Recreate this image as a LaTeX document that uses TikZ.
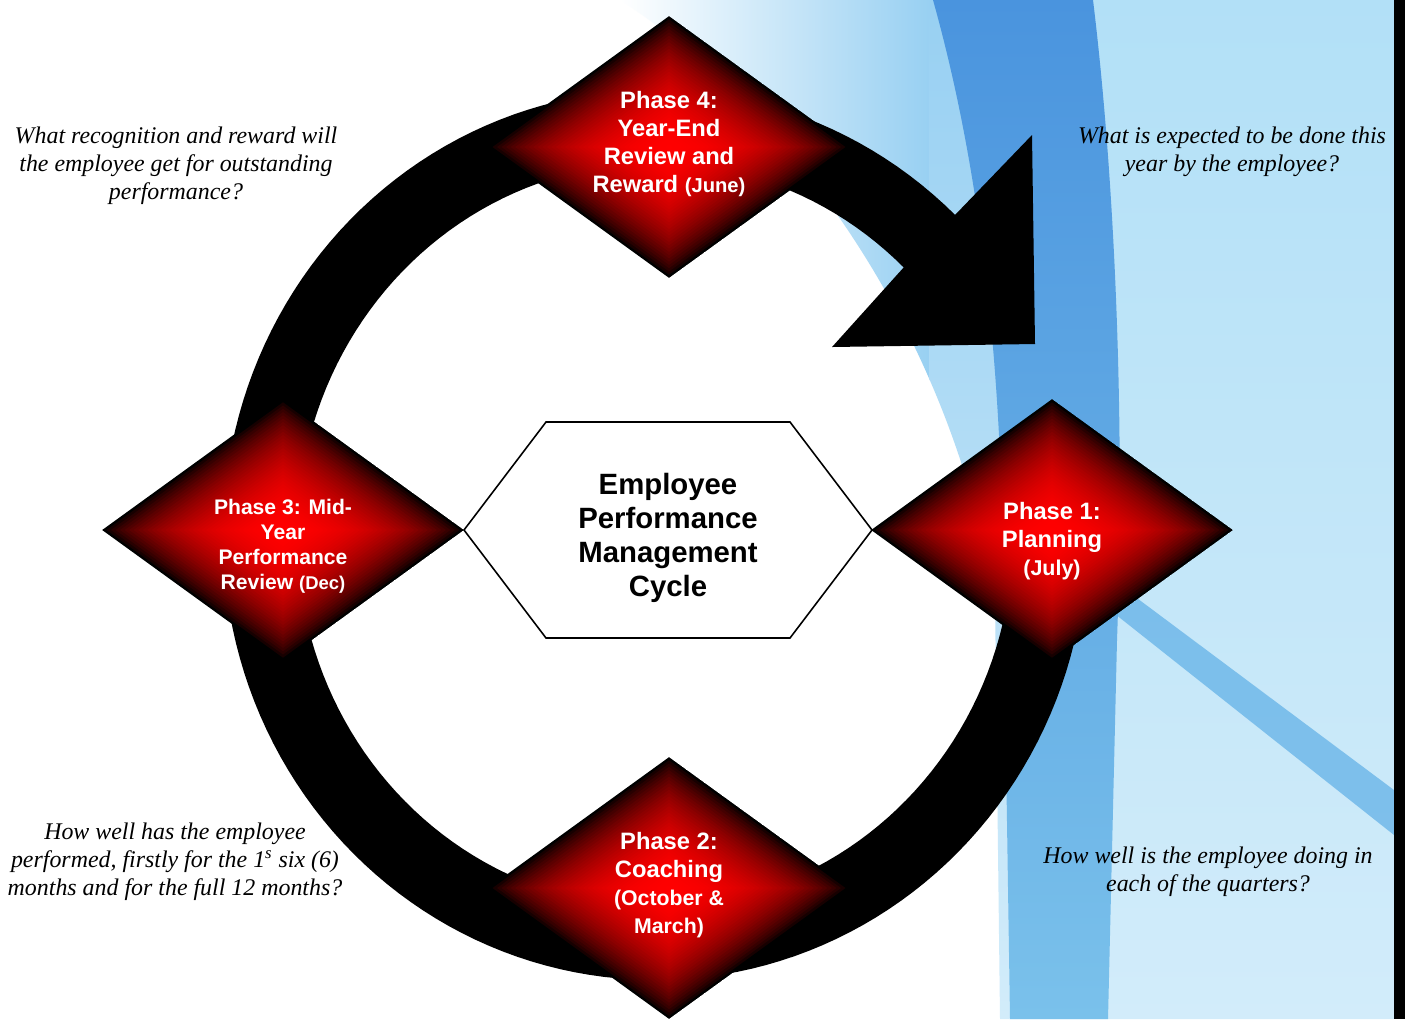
\documentclass[tikz,border=0pt]{standalone}
\usepackage{fontspec}
\setmainfont{Liberation Serif}
\setsansfont{Liberation Sans}
\usetikzlibrary{shapes.geometric}
\definecolor{skyL}{HTML}{B2E0F7}
\definecolor{skyM}{HTML}{98D0F2}
\definecolor{skyVL}{HTML}{D2ECFA}
\definecolor{swTop}{HTML}{4A94DE}
\definecolor{swBot}{HTML}{7AC1EB}
\definecolor{stripeC}{HTML}{5DAEE6}
\newcommand\gemfill{%
  \foreach \gi in {0,...,39}{%
    \pgfmathsetmacro\gsc{1-\gi/40}%
    \pgfmathsetmacro\gpc{100*(1-\gsc*\gsc)^0.8}%
    \fill[red!\gpc!black, shift={(path picture bounding box.center)}]
      (\gsc*181,0) -- (0,\gsc*131) -- (-\gsc*181,0) -- (0,-\gsc*131) -- cycle;
  }%
}
\tikzset{
  phase/.style={diamond, shape aspect=1.37, minimum width=7.24cm, minimum height=5.24cm,
    inner sep=0pt, path picture={\gemfill}},
  phasetext/.style={font=\fontsize{13.5}{15.9}\selectfont\sffamily\bfseries, text=white,
    align=center, inner sep=0pt},
  hubtext/.style={font=\fontsize{16.7}{19.3}\selectfont\sffamily\bfseries, text=black,
    align=center, inner sep=0pt},
  question/.style={font=\fontsize{13.6}{15.9}\selectfont\itshape, text=black,
    align=center, inner sep=0pt},
  hexframe/.style={draw=black, line width=0.9pt, fill=white, line join=miter}
}
\begin{document}
\begin{tikzpicture}[x=0.02cm, y=-0.02cm]
\useasboundingbox (0,0) rectangle (1405,1019);
% ---------- background ----------
\fill[white] (0,0) rectangle (1394,1019);
\begin{scope}
  \clip (620,0) .. controls (790,110) and (950,330) .. (995,600) -- (1000,1019)
        -- (1394,1019) -- (1394,0) -- cycle;
  \shade[left color=white, right color=skyM] (620,0) rectangle (930,1019);
  \shade[top color=skyM, bottom color=skyVL] (929,0) rectangle (1010,1019);
  \shade[top color=skyL, bottom color=skyVL] (1009,0) rectangle (1394,1019);
\end{scope}
\shade[top color=swTop, bottom color=swBot]
  (933,0) .. controls (975,150) and (1000,330) .. (1003,560) -- (1010,1019)
  -- (1108,1019) -- (1117,640) .. controls (1125,420) and (1115,180) .. (1093,0) -- cycle;
\fill[stripeC, opacity=0.7] (1110,578) -- (1394,790) -- (1394,835) -- (1110,610) -- cycle;
\fill[black] (1394,0) rectangle (1405,1019);
% ---------- circular arrow ----------
\fill[black]
  plot[domain=0:314, samples=160, variable=\t] ({655+432*cos(\t)},{535+445*sin(\t)})
  -- (1032,135) -- (1035,344) -- (832,347)
  -- plot[domain=314:0, samples=160, variable=\t] ({655+358*cos(\t)},{535+372*sin(\t)})
  -- cycle;
% ---------- hub ----------
\draw[hexframe] (464,530) -- (546,422) -- (790,422) -- (872,530) -- (790,638) -- (546,638) -- cycle;
\node[hubtext] (hub) at (668,538) {Employee\\Performance\\Management\\Cycle};
% ---------- phases ----------
\node[phase] (p4) at (669,147) {};
\node[phase] (p1) at (1052,530) {};
\node[phase] (p3) at (283,530) {};
\node[phase] (p2) at (669,888) {};
\node[phasetext] (p4t) at (669,144) {Phase 4:\\Year-End\\Review and\\Reward {\fontsize{11.5}{14}\selectfont(June)}};
\node[phasetext] (p1t) at (1052,541) {Phase 1:\\Planning\\{\fontsize{12.2}{14.8}\selectfont(July)}};
\node[phasetext, font=\fontsize{12}{14.2}\selectfont\sffamily\bfseries] (p3t) at (283,546)
  {Phase 3: Mid-\\Year\\Performance\\Review {\fontsize{10.5}{13}\selectfont(Dec)}};
\node[phasetext] (p2t) at (669,885) {Phase 2:\\Coaching\\{\fontsize{12.1}{14.8}\selectfont(October \&}\\{\fontsize{12.1}{14.8}\selectfont March)}};
% ---------- questions ----------
\node[question] (q4) at (176,166) {What recognition and reward will\\the employee get for outstanding\\performance?};
\node[question] (q1) at (1232,152) {What is expected to be done this\\year by the employee?};
\node[question] (q3) at (175,862) {How well has the employee\\performed, firstly for the 1\textsuperscript{s} six (6)\\months and for the full 12 months?};
\node[question] (q2) at (1208,872) {How well is the employee doing in\\each of the quarters?};
\end{tikzpicture}
\end{document}
